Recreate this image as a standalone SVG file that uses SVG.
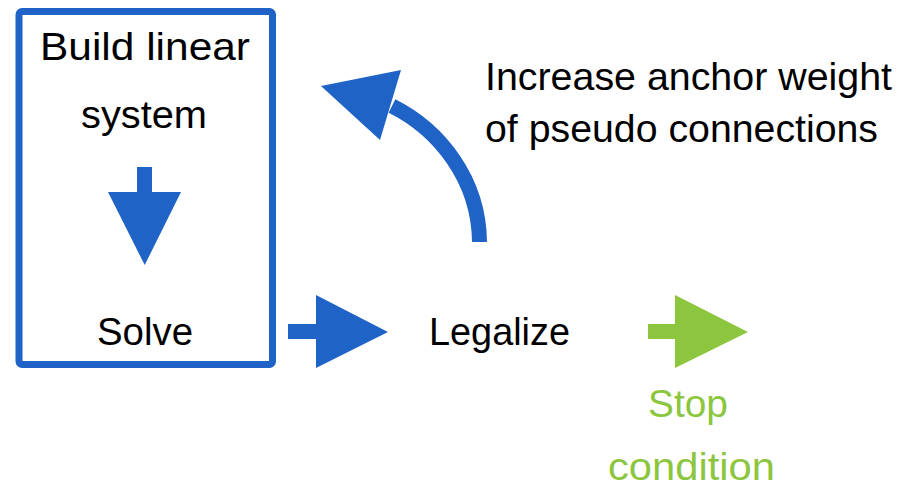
<svg xmlns="http://www.w3.org/2000/svg" width="919" height="491" viewBox="0 0 919 491">
  <style>
    .lbl { font-family: "Liberation Sans", Arial, sans-serif; font-size: 39px; fill: #000; }
    .stop { fill: #8CC63F; }
    .blue { fill: #1F63C6; }
    .green { fill: #8CC63F; }
  </style>
  <rect width="919" height="491" fill="#fff"/>

  <!-- solver loop box -->
  <g id="solver">
    <rect x="19" y="11.5" width="253.5" height="353" rx="3" fill="none" stroke="#1F63C6" stroke-width="7"/>
    <text class="lbl" x="40" y="60" textLength="210" lengthAdjust="spacingAndGlyphs">Build linear</text>
    <text class="lbl" x="81" y="128" textLength="126" lengthAdjust="spacingAndGlyphs">system</text>
    <polygon class="blue" points="137,167 152,167 152,192 181,192 144.7,265 108,192 137,192"/>
    <text class="lbl" x="97" y="345" textLength="96" lengthAdjust="spacingAndGlyphs">Solve</text>
  </g>

  <g id="legalize">
    <text class="lbl" x="429" y="345" textLength="141" lengthAdjust="spacingAndGlyphs">Legalize</text>
  </g>

  <g id="feedback-label">
    <text class="lbl" x="485" y="90" textLength="407" lengthAdjust="spacingAndGlyphs">Increase anchor weight</text>
    <text class="lbl" x="485" y="142" textLength="393" lengthAdjust="spacingAndGlyphs">of pseudo connections</text>
  </g>

  <g id="stop-condition">
    <text class="lbl stop" x="648" y="417" textLength="80" lengthAdjust="spacingAndGlyphs">Stop</text>
    <text class="lbl stop" x="608" y="480" textLength="167" lengthAdjust="spacingAndGlyphs">condition</text>
  </g>

  <!-- connectors -->
  <g id="connectors">
    <polygon class="blue" points="288,324 316,324 316,295 388,332 316,368 316,339 288,339"/>
    <polygon class="green" points="648,324 675,324 675,295 748,332 675,368 675,339 648,339"/>
    <path d="M479.5,242 C479,180 440,130 392,106" fill="none" stroke="#1F63C6" stroke-width="15"/>
    <polygon class="blue" points="321,86 401,70 380,140"/>
  </g>
</svg>
